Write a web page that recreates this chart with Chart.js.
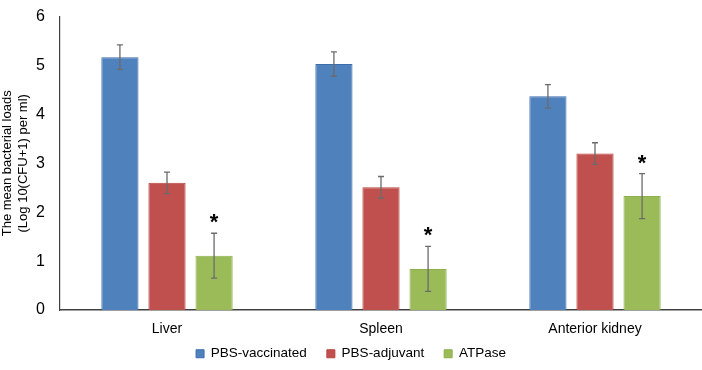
<!DOCTYPE html>
<html>
<head>
<meta charset="utf-8">
<script src="https://cdn.jsdelivr.net/npm/chart.js@4"></script>
<style>
  html, body { margin: 0; padding: 0; background: #fff; }
  #wrap { width: 702px; height: 370px; }
</style>
</head>
<body>
<div id="wrap"><canvas id="loadChart" width="702" height="370"></canvas></div>
<script>
const organs = ["Liver", "Spleen", "Anterior kidney"];
const seriesNames = ["PBS-vaccinated", "PBS-adjuvant", "ATPase"];
const pbsVaccinated = [5.17, 5.03, 4.37];
const pbsAdjuvant = [2.60, 2.51, 3.20];
const atpase = [1.11, 0.84, 2.33];
const errVaccinated = [0.25, 0.25, 0.24];
const errAdjuvant = [0.22, 0.22, 0.22];
const errAtpase = [0.46, 0.46, 0.46];
const yTicks = [0, 1, 2, 3, 4, 5, 6];

const fills = ["#4F81BD", "#C0504D", "#9BBB59"];
const edges = ["#3C6EAE", "#B8403C", "#8DB04A"];
const errors = [errVaccinated, errAdjuvant, errAtpase];

// error bars plus the asterisks above the ATPase bars
const errorBarPlugin = {
  id: "errorBars",
  afterInit(chart) {
    // keep the wide legend spacing without letting the legend eat the plot
    const legend = chart.legend;
    const fit = legend.fit;
    const draw = legend.draw;
    legend.fit = function () { fit.call(this); this.height = 32; };
    legend.draw = function () {
      const t = this.top;
      this.top = t - 11;
      draw.call(this);
      this.top = t;
    };
  },
  afterDatasetsDraw(chart) {
    const ctx = chart.ctx;
    const y = chart.scales.y;
    chart.data.datasets.forEach((ds, i) => {
      const meta = chart.getDatasetMeta(i);
      meta.data.forEach((bar, j) => {
        const v = ds.data[j];
        const e = errors[i][j];
        const top = y.getPixelForValue(v + e);
        const bot = y.getPixelForValue(v - e);
        ctx.save();
        ctx.strokeStyle = "#6b6b6b";
        ctx.lineWidth = 1.3;
        ctx.beginPath();
        ctx.moveTo(bar.x, top); ctx.lineTo(bar.x, bot);
        ctx.moveTo(bar.x - 3, top); ctx.lineTo(bar.x + 3, top);
        ctx.moveTo(bar.x - 3, bot); ctx.lineTo(bar.x + 3, bot);
        ctx.stroke();
        if (i === 2) {
          ctx.fillStyle = "#000";
          ctx.font = "bold 22px 'Liberation Sans', Arial, sans-serif";
          ctx.textAlign = "center";
          ctx.textBaseline = "alphabetic";
          ctx.fillText("*", bar.x, top - 4);
        }
        ctx.restore();
      });
    });
  }
};

const ctx = document.getElementById("loadChart").getContext("2d");
new Chart(ctx, {
  type: "bar",
  data: {
    labels: organs,
    datasets: [
      { label: seriesNames[0], data: pbsVaccinated, backgroundColor: fills[0], borderColor: edges[0], borderWidth: 1 },
      { label: seriesNames[1], data: pbsAdjuvant, backgroundColor: fills[1], borderColor: edges[1], borderWidth: 1 },
      { label: seriesNames[2], data: atpase, backgroundColor: fills[2], borderColor: edges[2], borderWidth: 1 }
    ]
  },
  options: {
    responsive: false,
    animation: false,
    layout: { padding: { top: 6, right: 0, bottom: 0, left: 0 } },
    datasets: { bar: { categoryPercentage: 0.66, barPercentage: 0.79 } },
    plugins: {
      legend: {
        position: "bottom",
        labels: {
          boxWidth: 8, boxHeight: 8, padding: 20,
          color: "#000",
          font: { family: "'Liberation Sans', Arial, sans-serif", size: 13.5 }
        }
      },
      tooltip: { enabled: false }
    },
    scales: {
      x: {
        grid: { display: false },
        border: { display: true, color: "#404040", width: 1.5 },
        ticks: { color: "#000", padding: 3, font: { family: "'Liberation Sans', Arial, sans-serif", size: 14 } },
        afterFit(scale) { scale.height = 28; }
      },
      y: {
        min: 0, max: 6,
        afterBuildTicks(scale) { scale.ticks = yTicks.map(v => ({ value: v })); },
        grid: { display: false },
        border: { display: true, color: "#404040", width: 1.2 },
        ticks: { color: "#000", padding: 7, font: { family: "'Liberation Sans', Arial, sans-serif", size: 16 } },
        title: {
          display: true,
          text: ["The mean bacterial loads", "(Log 10(CFU+1) per ml)"],
          color: "#000",
          padding: { top: 0, bottom: 2 },
          font: { family: "'Liberation Sans', Arial, sans-serif", size: 13 }
        },
        afterFit(scale) { scale.width = 60; }
      }
    }
  },
  plugins: [errorBarPlugin]
});
</script>
</body>
</html>
